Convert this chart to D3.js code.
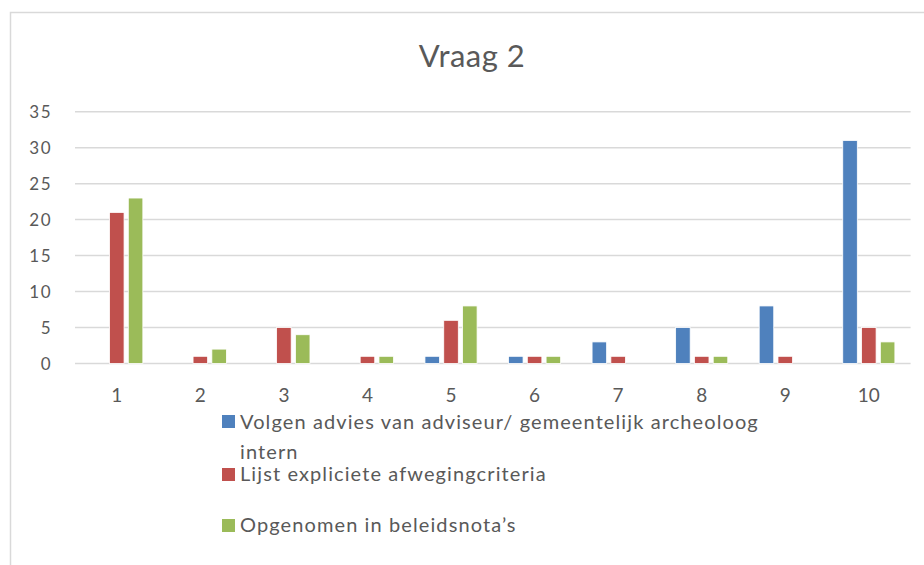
<!DOCTYPE html>
<html>
<head>
<meta charset="utf-8">
<script src="https://cdn.jsdelivr.net/npm/d3@7"></script>
<style>
  body { margin: 0; background: #fff; }
  svg { display: block; font-family: Lato, "Open Sans", sans-serif; }
</style>
</head>
<body>
<svg></svg>
<script>
var width = 924,
	height = 565;

// data
var categories = ["1", "2", "3", "4", "5", "6", "7", "8", "9", "10"];
var seriesNames = [
	"Volgen advies van adviseur/ gemeentelijk archeoloog",
	"Lijst expliciete afwegingcriteria",
	"Opgenomen in beleidsnota\u2019s"
];
var advies   = [0, 0, 0, 0, 1, 1, 3, 5, 8, 31];
var lijst    = [21, 1, 5, 1, 6, 1, 1, 1, 1, 5];
var beleid   = [23, 2, 4, 1, 8, 1, 0, 1, 0, 3];
var yTicks   = [0, 5, 10, 15, 20, 25, 30, 35];
var colors   = ["#4F81BD", "#C0504D", "#9BBB59"];

var series = [advies, lijst, beleid];

var svg = d3.select("svg")
			.attr("width", width)
			.attr("height", height);

// chart area border
svg.append("rect")
	.attr("x", 10.5)
	.attr("y", 12.5)
	.attr("width", 1000)
	.attr("height", 1000)
	.attr("fill", "none")
	.attr("stroke", "#d9d9d9")
	.attr("stroke-width", 1.5);

var x0 = d3.scaleBand()
			.domain(categories)
			.range([75, 910.6])
			.paddingInner(0.376)
			.paddingOuter(0.188);

var x1 = d3.scaleBand()
			.domain(d3.range(series.length))
			.range([0, x0.bandwidth()])
			.paddingInner(0.225);

var y = d3.scaleLinear()
			.domain([0, 35])
			.range([363.5, 111.7]);

// gridlines
svg.append("g")
	.selectAll("line")
	.data(yTicks)
	.enter()
	.append("line")
	.attr("x1", 75)
	.attr("x2", 910.6)
	.attr("y1", function(d) { return y(d); })
	.attr("y2", function(d) { return y(d); })
	.attr("stroke", "#d9d9d9")
	.attr("stroke-width", 1.5);

// y labels
svg.append("g")
	.selectAll("text")
	.data(yTicks)
	.enter()
	.append("text")
	.attr("x", 52)
	.attr("y", function(d) { return y(d) + 6; })
	.attr("text-anchor", "end")
	.attr("fill", "#595959")
	.style("font-size", "17px")
	.style("letter-spacing", "1.5px")
	.text(function(d) { return d; });

// x labels
svg.append("g")
	.selectAll("text")
	.data(categories)
	.enter()
	.append("text")
	.attr("x", function(d) { return x0(d) + x0.bandwidth() / 2; })
	.attr("y", 401.5)
	.attr("text-anchor", "middle")
	.attr("fill", "#595959")
	.style("font-size", "19px")
	.text(function(d) { return d; });

// bars, one group per series, zero values left out
svg.append("g")
	.selectAll("g")
	.data(series)
	.enter()
	.append("g")
	.attr("fill", function(d, i) { return colors[i]; })
	.each(function(vals, si) {
		d3.select(this).selectAll("rect")
			.data(vals.map(function(v, i) { return { cat: categories[i], v: v }; })
					  .filter(function(d) { return d.v > 0; }))
			.enter()
			.append("rect")
			.attr("x", function(d) { return x0(d.cat) + x1(si); })
			.attr("y", function(d) { return y(d.v); })
			.attr("width", x1.bandwidth())
			.attr("height", function(d) { return y(0) - y(d.v); })
			.attr("stroke", "#fff")
			.attr("stroke-width", 0.8);
	});

// title
svg.append("text")
	.attr("x", 472)
	.attr("y", 67)
	.attr("text-anchor", "middle")
	.attr("fill", "#595959")
	.style("font-size", "31px")
	.style("letter-spacing", "0.5px")
	.text("Vraag 2");

// legend
var legendRows = [
	{ lines: [seriesNames[0], "intern"], y: 429, sq: 415 },
	{ lines: [seriesNames[1]], y: 480.5, sq: 468 },
	{ lines: [seriesNames[2]], y: 531.5, sq: 519 }
];

var legend = svg.append("g");
legendRows.forEach(function(r, i) {
	legend.append("rect")
		.attr("x", 222)
		.attr("y", r.sq)
		.attr("width", 13)
		.attr("height", 13)
		.attr("fill", colors[i]);
	r.lines.forEach(function(t, j) {
		legend.append("text")
			.attr("x", 240)
			.attr("y", r.y + j * 29.5)
			.attr("fill", "#595959")
			.style("font-size", "20px")
			.style("letter-spacing", "1.1px")
			.text(t);
	});
});
</script>
</body>
</html>
